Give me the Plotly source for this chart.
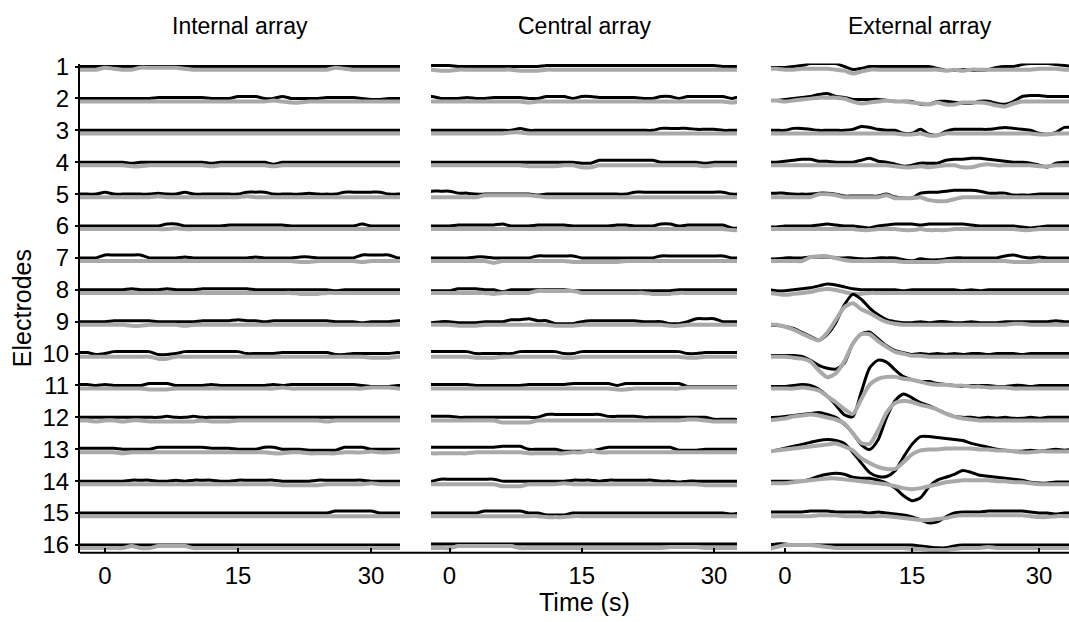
import plotly.graph_objects as go

# ---------------- data ----------------
TIME_S = list(range(-3, 35))          # seconds
ELECTRODES = list(range(1, 17))
PANEL_TITLES = ["Internal array", "Central array", "External array"]
X_TICKS = [0, 15, 30]

# signal deviations (arbitrary units, ~32.7 units = one electrode spacing), up = positive
INTERNAL_BLACK = [
    [0,0,0,0,0,0,0,0,0,0, 0,0,0,0,0,0,0,0,0,0, 0,0,0,0,0,0,0,0,0,0, 0,0,0,0,0,0,0,0],
    [0,0,0,0,0,0,0,0,0,1, 1,1,1,1,1,0,0,0,2,2, 2,0,0,2,0,0,0,0,1,1, 1,1,0,-1,-1,0,0,0],
    [0,0,0,0,0,0,0,0,0,0, 0,0,0,0,0,0,0,0,0,0, 0,0,0,0,0,0,0,0,0,0, 0,0,0,0,0,0,0,0],
    [0,0,0,0,0,0,-1,0,0,0, 0,0,0,0,0,-1,0,0,0,0, 0,0,-2,0,0,0,0,0,0,0, 0,0,0,0,0,0,0,0],
    [0,0,0,2,0,0,0,0,0,1, 0,0,2,0,0,0,0,0,0,2, 2,2,0,0,0,0,1,0,0,0, 2,2,2,2,2,0,0,0],
    [0,0,0,0,0,0,0,0,0,0, 2,2,0,0,0,0,0,1,1,1, 1,1,1,1,0,0,0,0,0,0, 0,0,2,0,0,0,0,0],
    [0,0,0,3,3,3,3,3,0,0, 0,0,1,0,0,0,0,0,0,0, 1,0,0,0,0,1,1,0,0,0, 0,0,3,3,3,3,0,0],
    [0,0,0,0,0,0,1,0,0,0, 1,0,0,0,1,1,1,1,1,1, 0,0,0,0,0,0,0,0,0,-1, 0,0,0,0,0,0,0,0],
    [0,0,0,0,1,1,1,1,1,0, 0,0,0,0,1,1,1,1,2,1, 1,0,1,1,1,1,1,1,1,0, 0,0,-1,0,0,0,1,0],
    [1,1,-1,0,2,2,2,2,2,-1, -1,0,2,2,2,2,2,2,2,0, 0,0,0,1,1,1,1,1,1,-1, -1,0,0,0,0,0,1,0],
    [1,1,0,1,0,0,0,0,2,2, 2,0,0,0,0,1,0,0,0,0, 0,0,1,0,1,1,1,1,1,1, 1,1,0,-1,-1,-1,0,0],
    [0,0,0,0,0,0,0,0,0,0, 1,0,0,1,0,0,0,0,0,0, 0,0,0,0,0,0,0,0,0,0, 0,0,0,0,0,0,0,0],
    [1,1,1,1,1,0,0,0,0,2, 2,2,2,2,2,1,1,1,0,0, 0,2,2,0,0,0,-1,-1,-1,-1, 2,2,2,0,0,0,0,0],
    [0,0,0,0,0,0,1,1,1,0, 0,1,0,1,1,1,0,0,1,1, 1,1,1,0,0,0,0,1,1,1, 1,1,1,0,0,0,0,0],
    [0,0,0,0,0,0,0,0,0,0, 0,0,0,0,0,0,0,0,0,0, 0,0,0,0,0,0,0,0,0,2, 2,2,2,2,0,0,0,0],
    [0,0,0,0,0,0,0,0,0,0, 0,0,0,0,0,0,0,0,0,0, 0,0,0,0,0,0,0,0,0,0, 0,0,0,0,0,0,0,0],
]
INTERNAL_GRAY = [
    [0,0,0,2,1,0,0,2,2,2, 2,2,1,0,0,0,0,0,0,0, 0,0,0,0,0,0,0,0,0,2, 1,0,0,0,0,0,0,0],
    [0,0,0,0,0,0,0,0,0,0, 0,0,0,0,0,0,0,0,0,0, 0,0,1,0,-1,-1,0,0,0,0, 0,0,0,0,0,0,0,0],
    [0,0,0,0,0,0,0,0,0,0, 0,0,0,0,0,0,0,0,0,0, 0,0,0,0,0,0,0,0,0,0, 0,0,0,0,0,0,0,0],
    [0,0,0,0,0,0,-1,-1,0,0, 0,0,0,0,0,-1,0,0,0,0, 0,0,-1,0,0,0,0,0,0,0, 0,0,0,0,0,0,0,0],
    [0,0,0,0,0,0,0,0,0,1, 0,0,0,0,0,0,0,0,0,1, 0,0,0,0,0,0,0,0,0,0, 0,0,0,0,0,0,0,0],
    [0,0,0,0,0,0,0,0,0,0, 0,1,0,0,0,0,0,0,0,0, 0,0,0,0,0,0,0,0,0,0, 0,0,0,0,0,0,0,0],
    [0,0,0,0,0,0,0,0,0,0, 0,0,0,0,0,0,0,0,0,0, 0,0,0,0,0,-1,-1,0,0,0, 0,0,-1,0,0,0,0,0],
    [0,0,0,0,0,0,0,0,0,0, 0,0,0,0,0,0,0,0,0,0, 0,0,0,0,0,-1,-1,-1,0,0, 0,0,0,0,0,0,0,0],
    [0,0,0,0,0,0,-1,-1,0,0, 0,0,-1,0,0,0,0,0,0,0, 0,0,0,0,0,0,0,0,0,0, 0,0,0,0,0,0,0,0],
    [0,0,0,0,0,0,0,0,0,-2, -2,0,0,0,0,0,0,0,0,0, 0,0,0,0,0,0,0,0,0,0, 0,0,0,-1,-1,-1,0,0],
    [0,0,0,0,0,0,0,0,-1,-1, -1,0,0,0,0,0,0,0,0,0, 0,0,0,1,0,0,0,0,0,0, 0,0,0,1,1,1,0,0],
    [0,0,-1,0,0,-1,0,0,-1,-1, -1,-1,-1,-1,0,-1,-1,-1,0,0, 0,0,0,0,0,0,0,0,-1,0, 0,0,0,0,0,0,0,0],
    [0,0,0,0,0,-1,0,0,0,0, 0,0,0,0,0,0,0,0,0,0, 0,0,-1,-1,0,0,-1,-1,-1,-1, 0,0,0,1,0,0,1,0],
    [0,0,0,0,0,0,0,0,0,0, 0,0,0,0,0,0,0,0,0,0, 0,0,0,-1,-1,-1,-1,-1,0,0, 0,0,0,1,0,0,0,0],
    [0,0,0,0,0,0,0,0,0,0, 0,0,0,0,0,0,0,0,0,0, 0,0,0,0,0,0,0,0,0,0, 0,0,0,0,0,0,0,0],
    [0,0,0,0,0,0,2,0,0,2, 2,2,2,0,0,0,0,0,0,0, 0,0,0,0,0,0,0,0,0,0, 0,0,0,0,0,0,0,0],
]
CENTRAL_BLACK = [
    [0,1,1,1,0,0,0,0,0,0, 0,0,0,0,1,1,1,1,1,1, 1,1,1,1,1,1,1,1,1,1, 1,1,1,1,0,0,0,0],
    [0,2,0,0,0,1,0,0,1,1, 1,1,0,0,2,2,2,0,2,2, 1,1,1,1,1,0,0,2,2,0, 2,2,2,2,2,0,2,0],
    [0,0,0,0,0,0,0,0,0,0, 0,2,0,0,0,0,0,0,0,0, 0,0,0,0,0,0,0,2,2,2, 2,1,1,1,0,0,0,0],
    [0,0,0,0,0,0,0,0,0,0, 0,0,0,0,0,0,0,0,-1,-1, 2,2,2,2,2,2,2,0,0,0, 0,0,-1,0,0,0,0,0],
    [0,3,3,3,1,1,0,0,0,0, 0,0,0,-1,0,0,0,0,0,0, 0,0,0,0,2,2,2,2,2,2, 2,2,2,2,2,0,0,0],
    [0,0,0,0,1,1,1,1,1,2, 0,0,0,1,1,1,1,0,0,0, 0,0,1,1,0,0,0,2,2,0, 1,1,1,1,1,-2,-2,0],
    [0,0,0,0,0,0,1,1,0,0, 0,0,0,2,2,2,2,2,0,0, 0,0,0,0,0,0,0,2,2,2, 2,2,2,2,2,0,0,0],
    [-1,-1,-1,-1,1,1,1,0,0,-2, 0,0,0,0,0,0,0,-1,-1,-1, -1,-1,-1,-1,-1,-1,-1,-1,-1,0, 0,0,0,0,0,0,0,0],
    [-1,-1,0,0,-1,-1,-1,0,0,0, 2,2,3,1,1,-2,-2,-2,0,1, 1,1,1,1,1,0,0,0,-2,-2, 0,3,3,3,0,0,0,0],
    [2,2,2,2,2,2,0,0,0,0, 0,2,2,2,2,2,0,0,2,2, 2,2,2,2,2,2,2,2,2,2, 0,0,1,1,1,1,1,0],
    [1,1,1,1,1,1,0,0,0,0, 0,0,1,1,1,1,1,2,2,2, 2,2,0,2,2,2,2,2,2,2, -1,-1,-1,-1,-1,-1,-1,0],
    [1,1,1,1,0,0,0,0,0,0, 0,0,0,0,3,3,3,3,3,3, 3,1,1,1,1,0,0,0,0,0, 0,0,0,-2,-2,-2,-2,0],
    [2,2,2,2,2,2,2,2,2,3, 3,3,0,0,0,0,-2,-2,-2,-2, 0,2,2,2,2,2,2,2,2,-1, -1,-1,0,0,0,0,0,0],
    [0,0,2,2,2,2,2,2,2,0, 0,0,0,0,0,0,0,1,1,1, 0,1,1,1,1,1,1,0,0,-1, 0,0,0,0,0,0,0,0],
    [0,0,0,0,0,0,0,2,2,2, 2,2,0,0,-2,-2,-2,0,0,0, 0,0,0,0,0,0,0,0,0,0, 0,0,0,0,0,-1,0,0],
    [1,1,1,1,1,1,1,1,1,1, 1,1,1,1,1,1,1,1,1,1, 1,1,1,1,1,1,1,1,1,1, 1,1,1,1,1,1,1,1],
]
CENTRAL_GRAY = [
    [0,0,-1,-1,0,0,0,0,0,0, 0,-1,-1,-1,0,0,0,0,0,0, 0,0,0,0,0,0,0,0,0,0, 0,0,0,0,0,0,0,0],
    [0,0,0,0,0,0,0,0,0,0, 0,0,-1,0,0,0,0,0,0,0, 0,0,0,0,0,0,0,0,0,0, 0,0,0,0,0,-1,0,0],
    [0,0,0,0,0,0,0,0,0,0, 1,1,0,0,0,0,0,0,0,0, 0,0,0,0,0,0,0,0,0,0, 0,0,0,0,0,0,0,0],
    [0,0,0,0,0,0,0,0,0,0, 0,0,-1,-1,-1,-1,0,0,-2,-2, 0,0,0,0,0,0,0,0,0,0, 0,0,-1,0,0,0,0,0],
    [0,0,0,0,0,0,0,2,2,2, 2,2,2,1,0,0,0,0,0,0, 0,0,0,0,0,0,0,0,0,0, 0,0,0,0,0,0,0,0],
    [0,0,0,0,0,0,0,0,0,0, 0,0,0,0,0,0,0,0,0,0, 0,0,0,0,0,0,0,0,0,0, 0,0,0,0,0,-1,-1,0],
    [0,0,0,0,0,0,0,0,-2,0, 0,0,0,0,0,0,0,-1,-1,-1, -1,-1,-1,0,0,0,0,0,0,0, 0,0,0,0,0,0,0,0],
    [0,0,0,0,0,0,0,0,-1,0, 0,0,0,2,2,2,2,2,0,0, 0,0,0,0,0,0,-1,-1,-1,0, 0,0,0,0,0,0,0,0],
    [0,0,0,0,-1,-1,-1,0,0,0, 0,0,0,0,0,-1,-1,-1,0,0, 0,0,0,0,0,0,0,0,-1,-1, 0,0,0,0,0,0,0,0],
    [0,0,0,0,0,0,-1,-1,-1,0, 0,0,0,0,0,0,-1,-1,0,0, 0,0,0,0,0,0,0,0,0,0, -1,-1,0,0,0,0,0,0],
    [0,0,0,0,0,0,0,0,0,0, 0,0,0,0,0,0,0,0,0,0, 0,0,-1,-1,0,0,0,0,0,0, 1,1,1,1,1,1,1,0],
    [0,0,0,0,0,0,0,0,0,-2, -2,-2,-2,0,0,0,0,0,0,0, 0,0,0,0,0,0,0,0,0,0, 1,1,0,-1,-1,-1,-1,0],
    [0,-1,-1,-1,-1,-1,0,0,0,0, 0,0,-1,-1,-1,-1,-1,0,0,2, 0,0,0,0,0,0,0,0,0,0, 0,0,0,0,0,0,0,0],
    [0,0,0,0,0,0,0,0,0,-2, -2,-2,0,0,0,0,1,0,0,0, 0,0,0,0,0,0,0,0,0,0, 0,0,-1,-1,-1,-1,-1,0],
    [0,0,0,0,0,0,0,0,0,0, 0,0,0,0,-1,-1,-1,0,0,0, 0,0,0,0,0,0,0,0,0,0, 0,0,0,0,0,0,0,0],
    [0,0,0,0,2,2,2,2,2,2, 2,0,0,0,0,0,0,0,0,0, 0,0,0,0,0,0,0,0,1,1, 1,1,0,0,0,0,0,0],
]
EXTERNAL_BLACK = [
    [-1,-1,-1,-1,0,1,3,3,3,3, 0,-3,-2,0,0,0,0,0,0,0, 0,-2,-4,-4,-3,-4,-4,-3,-1,0, 0,2,3,3,3,2,1,0],
    [-2,-2,-2,-1,0,1,2,4,5,2, 1,-1,-1,-1,-1,-2,-3,-3,-3,-6, -6,-3,-3,-4,-5,-5,-3,-3,-5,-6, -3,2,3,3,2,2,2,2],
    [0,0,0,0,2,2,1,0,0,0, 0,1,4,3,1,0,0,-3,-3,1, -4,-5,-1,1,1,1,1,1,2,3, 2,1,0,-3,-4,-2,3,3],
    [0,0,0,1,2,3,3,1,1,0, 0,0,2,4,1,0,-2,-4,-3,-1, -1,-1,2,3,3,4,4,3,2,1, 0,0,-1,-3,-5,-1,0,0],
    [1,1,1,1,0,0,0,1,1,0, -2,-2,-2,-2,-2,0,-3,-4,-4,1, 2,2,3,4,4,4,3,1,1,1, -1,-1,-1,0,0,0,0,0],
    [-1,-1,-1,0,0,0,0,1,2,1, 0,0,-1,-2,0,1,2,2,2,1, 2,2,2,2,2,1,0,0,0,0, 0,-1,-2,-1,0,0,0,0],
    [-1,-1,-1,0,0,0,1,1,1,0, 0,0,-1,-1,0,0,0,-2,-3,-1, -2,-2,-1,0,0,0,0,0,0,2, 3,1,0,1,0,0,0,0],
    [0,0,-1,-1,0,1,2,4,6,5, 3,1,0,0,0,0,0,-1,0,0, 0,0,0,0,-1,0,-1,0,0,0, 0,0,0,0,0,0,0,0],
    [-4,-4,-4,-5,-7,-11,-15,-19,-13,-1, 17,28,23,14,7,2,0,-1,-1,0, -1,0,0,-1,-1,0,-1,-1,-1,0, 0,0,0,0,0,1,0,0],
    [-2,-2,-2,-2,-2,-3,-7,-12,-15,-16, -10,10,20,22,15,8,3,1,-1,0, -1,0,-1,0,-1,0,0,-1,0,0, 0,-1,0,0,0,0,0,0],
    [-1,-1,-1,-1,0,1,0,-4,-11,-20, -30,-32,-7,18,26,24,16,9,6,4, 4,2,1,0,-1,0,0,0,-1,-1, 0,0,-1,0,0,0,0,0],
    [0,0,0,1,2,3,4,5,3,0, -7,-16,-28,-33,-23,0,17,24,20,15, 12,8,4,1,0,0,-1,0,-1,0, -1,-1,0,-1,0,0,0,0],
    [-2,-2,-1,1,3,5,7,9,10,9, 6,-3,-14,-24,-28,-28,-22,-8,5,13, 13,12,11,10,9,6,4,2,0,-1, -2,-2,-1,-2,-1,0,-1,0],
    [0,0,0,0,0,0,2,5,7,8, 7,4,3,3,1,-2,-7,-15,-20,-17, -6,1,4,7,11,9,6,5,4,3, 2,1,-1,-2,-2,-1,-1,-1],
    [1,1,1,1,1,1,2,2,2,1, 1,1,1,0,1,0,-1,-2,-4,-7, -10,-9,-4,0,1,1,1,2,2,2, 2,2,1,0,0,-1,0,0],
    [0,0,1,1,0,0,0,0,0,0, 0,0,0,0,0,0,0,0,0,-1, -2,-3,-3,-1,0,0,0,0,0,0, 0,0,0,0,0,0,0,0],
]
EXTERNAL_GRAY = [
    [1,1,1,0,0,1,1,1,1,0, -1,-4,-2,0,0,0,0,0,0,0, 0,0,-1,0,-1,0,0,0,0,0, 0,0,0,1,1,1,0,0],
    [1,1,1,0,1,2,3,4,4,4, 3,0,-2,-1,0,1,0,0,-1,-2, -3,-1,-3,-3,-1,-1,-1,-2,-4,-5, -2,0,0,0,0,0,0,0],
    [0,0,0,0,0,0,0,0,0,0, 0,0,0,0,0,0,0,-1,-1,0, -2,-2,0,0,0,0,0,0,0,0, 0,0,0,-1,-1,0,0,0],
    [0,0,0,0,0,0,0,0,0,0, 0,0,0,0,0,0,-1,-2,-2,-1, -2,-1,0,0,-2,-2,0,1,0,0, 0,0,0,-1,-1,0,0,0],
    [0,0,0,0,0,0,0,3,3,2, 0,0,0,0,0,2,-1,-1,-1,0, -3,-4,-4,-2,0,0,0,0,0,0, 0,0,0,0,0,0,0,0],
    [0,0,0,0,0,0,0,0,0,0, 0,0,-1,-1,0,0,0,-1,-1,0, -1,-1,-1,0,0,0,0,0,0,0, 0,-1,-1,0,0,0,0,0],
    [0,0,0,0,0,0,4,5,5,3, 1,0,0,0,0,0,0,-1,-1,-1, -1,-1,0,0,0,0,0,0,0,0, -1,-1,-1,0,0,0,0,0],
    [0,0,-1,-2,-1,0,1,3,4,3, 1,-1,-1,0,0,0,0,0,0,0, 0,0,0,0,0,0,0,0,0,0, 0,0,0,0,0,0,0,0],
    [0,0,0,-2,-5,-9,-13,-16,-8,5, 18,22,16,12,7,3,1,0,0,0, 0,0,0,0,0,0,0,0,0,0, 1,1,0,0,0,0,0,0],
    [0,0,0,0,-1,-2,-5,-14,-21,-17, -5,13,23,23,16,10,5,3,1,1, 0,0,0,0,0,0,0,0,0,0, 0,0,0,0,0,0,0,0],
    [0,0,0,0,0,1,0,-2,-8,-14, -21,-26,-11,4,10,12,12,10,9,7, 5,4,4,3,3,2,2,1,1,1, 0,0,0,0,0,0,0,0],
    [0,0,1,2,4,5,6,5,3,1, -3,-13,-23,-24,-10,8,18,20,19,16, 14,11,7,4,2,1,0,0,0,0, 0,0,0,0,0,0,0,0],
    [1,1,2,3,4,5,6,7,8,9, 6,2,-6,-11,-15,-17,-17,-10,-2,2, 3,3,4,4,4,4,3,3,2,2, 1,0,0,1,1,1,1,1],
    [1,1,1,1,2,3,4,5,6,6, 5,4,3,2,1,0,-2,-4,-5,-4, -2,0,2,3,4,4,4,4,3,3, 2,2,1,0,0,0,0,0],
    [0,0,0,0,0,0,0,1,1,1, 0,0,0,0,0,0,-1,-2,-3,-4, -4,-3,-2,0,1,1,1,1,1,1, 1,1,0,-1,-1,0,0,0],
    [-1,-1,1,3,3,3,3,2,1,0, 0,0,0,0,0,0,0,0,-1,-1, -2,-2,-2,-1,0,0,0,1,0,0, 0,0,0,0,0,0,0,0],
]

for arr in (INTERNAL_BLACK, INTERNAL_GRAY, CENTRAL_BLACK, CENTRAL_GRAY, EXTERNAL_BLACK, EXTERNAL_GRAY):
    assert len(arr) == 16
    for row in arr:
        assert len(row) == len(TIME_S), len(row)

# ---------------- style / layout ----------------
W, H = 1069, 622
AMP_PER_SPACING = 32.7     # signal units per electrode spacing
GRAY_SHIFT = 3.2           # gray trace drawn slightly below black
FONT = "Arial, Liberation Sans, sans-serif"
GRAY = "#a9a9a9"
TICK_SIZE = 24
TITLE_SIZE = 23
AXIS_TITLE_SIZE = 25

# panel pixel geometry
PANEL_PX = [(80, 400), (431, 737), (771, 1069)]
X_RANGES = [[-2.82, 33.26], [-2.10, 32.60], [-1.65, 33.54]]
Y_TOP_PX, Y_BOT_PX = 54, 556
Y_RANGE = [16.244, 0.908]

def px_x(p):
    return p / W

def px_y(p):
    return (H - p) / H

y_dom = [px_y(Y_BOT_PX), px_y(Y_TOP_PX)]

fig = go.Figure()
panels = [(INTERNAL_BLACK, INTERNAL_GRAY), (CENTRAL_BLACK, CENTRAL_GRAY), (EXTERNAL_BLACK, EXTERNAL_GRAY)]
for p, (blk, gry) in enumerate(panels):
    xa = "x" if p == 0 else f"x{p+1}"
    ya = "y" if p == 0 else f"y{p+1}"
    for k, e in enumerate(ELECTRODES):
        fig.add_trace(go.Scatter(
            x=TIME_S, y=[e - v / AMP_PER_SPACING for v in blk[k]],
            mode="lines", line=dict(color="black", width=3.0, shape="spline", smoothing=0.7),
            xaxis=xa, yaxis=ya, showlegend=False, hoverinfo="skip"))
        fig.add_trace(go.Scatter(
            x=TIME_S, y=[e - (v - GRAY_SHIFT) / AMP_PER_SPACING for v in gry[k]],
            mode="lines", line=dict(color=GRAY, width=4.0, shape="spline", smoothing=0.7),
            xaxis=xa, yaxis=ya, showlegend=False, hoverinfo="skip"))

layout = dict(
    width=W, height=H,
    margin=dict(l=0, r=0, t=0, b=0),
    paper_bgcolor="white", plot_bgcolor="white",
    font=dict(family=FONT, size=TICK_SIZE, color="black"),
    showlegend=False,
)
for p in range(3):
    xk = "xaxis" if p == 0 else f"xaxis{p+1}"
    yk = "yaxis" if p == 0 else f"yaxis{p+1}"
    yref = "y" if p == 0 else f"y{p+1}"
    layout[xk] = dict(
        domain=[px_x(PANEL_PX[p][0]), px_x(PANEL_PX[p][1])],
        range=X_RANGES[p], anchor=yref,
        tickvals=X_TICKS, ticks="inside", ticklen=5, tickwidth=1.5, tickcolor="black",
        showline=False, showgrid=False, zeroline=False,
        tickfont=dict(size=TICK_SIZE, family=FONT, color="black"),
        ticklabelstandoff=6,
    )
    xref = "x" if p == 0 else f"x{p+1}"
    if p == 0:
        layout[yk] = dict(
            domain=y_dom, range=Y_RANGE, anchor=xref,
            tickvals=ELECTRODES, ticktext=[str(e) for e in ELECTRODES],
            ticks="outside", ticklen=3, tickwidth=2, tickcolor="black",
            showline=True, linewidth=2, linecolor="black",
            showgrid=False, zeroline=False,
            tickfont=dict(size=TICK_SIZE, family=FONT, color="black"),
            ticklabelstandoff=1,
        )
    else:
        layout[yk] = dict(domain=y_dom, range=Y_RANGE, anchor=xref, visible=False)

fig.update_layout(**layout)

# continuous bottom baseline across all panels
fig.add_shape(type="line", xref="paper", yref="paper",
              x0=px_x(80), x1=1.0, y0=px_y(Y_BOT_PX), y1=px_y(Y_BOT_PX),
              line=dict(color="black", width=2))

for p, title in enumerate(PANEL_TITLES):
    cx = (PANEL_PX[p][0] + PANEL_PX[p][1]) / 2
    fig.add_annotation(text=title, x=px_x(cx), y=px_y(15), xref="paper", yref="paper",
                       showarrow=False, xanchor="center", yanchor="middle",
                       font=dict(size=TITLE_SIZE, family=FONT, color="black"))

fig.add_annotation(text="Time (s)", x=px_x(584), y=px_y(607), xref="paper", yref="paper",
                   showarrow=False, xanchor="center", yanchor="middle",
                   font=dict(size=AXIS_TITLE_SIZE, family=FONT, color="black"))
fig.add_annotation(text="Electrodes", x=px_x(22), y=px_y(305), xref="paper", yref="paper",
                   showarrow=False, xanchor="center", yanchor="middle", textangle=-90,
                   font=dict(size=AXIS_TITLE_SIZE, family=FONT, color="black"))

fig.write_html("out.html")
